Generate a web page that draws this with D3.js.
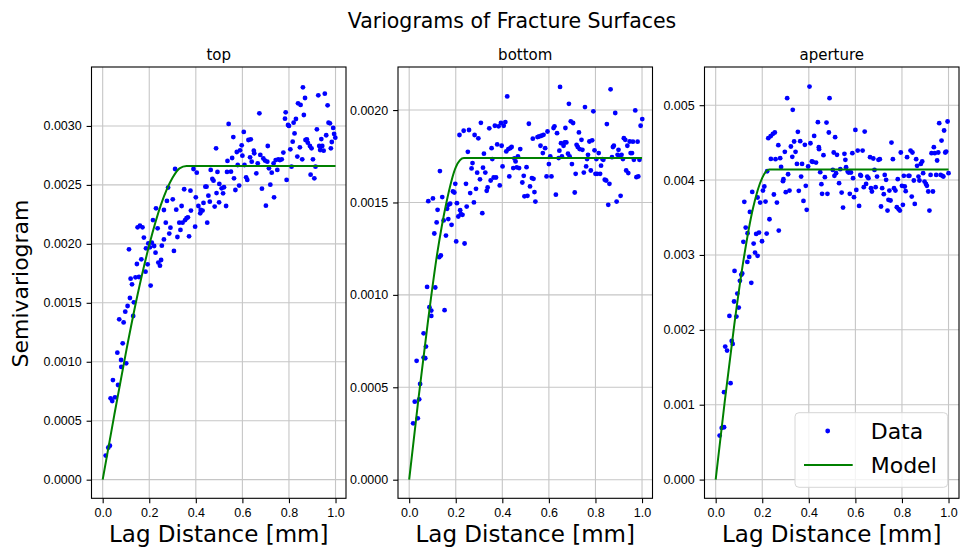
<!DOCTYPE html>
<html>
<head>
<meta charset="utf-8">
<script src="https://cdn.jsdelivr.net/npm/d3@7"></script>
<style>
  body { margin: 0; background: #fff; }
  svg { font-family: "DejaVu Sans", sans-serif; }
  .tick text { font-size: 12.5px; fill: #000; }
  .tick line { stroke: #000; stroke-width: 1.1; }
  .domain { display: none; }
</style>
</head>
<body>
<svg id="chart" width="960" height="551"></svg>
<script>
// lag distance [mm], semivariogram in units of 1e-3
var topData = [
  [0.013,0.204],[0.024,0.271],[0.031,0.288],[0.034,0.690],[0.041,0.667],[0.053,0.698],[0.044,0.845],[0.066,0.803],
  [0.063,1.077],[0.079,1.015],[0.080,0.956],[0.086,1.156],[0.101,0.987],[0.071,1.360],[0.090,1.334],[0.097,1.425],
  [0.107,1.473],[0.117,1.541],[0.131,1.388],[0.134,1.504],[0.120,1.705],[0.126,1.657],[0.141,1.716],[0.156,1.719],
  [0.147,1.829],[0.113,1.954],[0.166,1.869],[0.184,1.764],[0.193,1.826],[0.206,1.646],[0.150,2.140],[0.160,2.154],
  [0.171,2.140],[0.177,2.053],[0.186,1.962],[0.196,2.004],[0.203,1.971],[0.211,2.010],[0.221,1.982],[0.227,1.925],
  [0.239,1.841],[0.246,1.815],[0.251,1.863],[0.216,2.202],[0.229,2.301],[0.236,2.132],[0.254,1.985],[0.263,2.038],
  [0.263,2.287],[0.271,2.180],[0.281,2.477],[0.276,2.364],[0.286,2.087],[0.291,2.137],[0.301,2.378],[0.306,1.940],
  [0.311,2.635],[0.316,2.290],[0.321,2.058],[0.329,2.180],[0.334,2.118],[0.339,2.321],[0.343,2.180],[0.350,2.463],
  [0.354,2.202],[0.360,2.217],[0.366,2.225],[0.371,2.064],[0.379,2.282],[0.377,2.451],[0.390,2.635],[0.397,2.146],
  [0.400,2.395],[0.404,2.604],[0.411,2.321],[0.419,2.259],[0.421,2.287],[0.429,2.282],[0.433,2.347],[0.441,2.485],
  [0.446,2.485],[0.449,2.180],[0.454,2.409],[0.460,2.358],[0.464,2.627],[0.471,2.550],[0.476,2.536],[0.481,2.316],
  [0.487,2.810],[0.489,2.431],[0.493,2.610],[0.500,2.352],[0.501,2.508],[0.517,2.429],[0.511,2.471],[0.521,2.480],
  [0.530,2.321],[0.541,3.017],[0.536,2.703],[0.534,2.610],[0.551,2.612],[0.556,2.728],[0.561,2.906],[0.564,2.556],
  [0.570,2.457],[0.576,2.779],[0.580,2.669],[0.586,2.494],[0.590,2.793],[0.597,2.836],[0.600,2.748],[0.606,2.949],
  [0.609,2.669],[0.616,2.564],[0.621,2.542],[0.626,2.881],[0.636,2.887],[0.633,2.734],[0.640,2.697],[0.649,2.790],
  [0.651,2.768],[0.660,2.598],[0.666,2.683],[0.673,3.107],[0.677,2.754],[0.684,2.468],[0.690,2.725],[0.697,2.706],
  [0.701,2.324],[0.707,2.697],[0.709,2.830],[0.714,2.641],[0.720,2.502],[0.726,2.604],[0.736,2.395],[0.734,2.683],
  [0.743,2.711],[0.750,2.627],[0.754,2.717],[0.761,2.711],[0.769,2.717],[0.776,2.774],[0.783,3.062],[0.786,3.116],
  [0.790,2.542],[0.796,3.008],[0.800,3.000],[0.806,2.802],[0.811,2.655],[0.816,2.867],[0.820,3.028],[0.824,2.937],
  [0.830,3.059],[0.836,2.740],[0.839,3.192],[0.847,2.819],[0.850,3.178],[0.857,2.717],[0.860,3.328],[0.864,3.093],
  [0.869,3.237],[0.871,2.881],[0.877,2.887],[0.881,2.858],[0.890,2.830],[0.893,2.587],[0.897,2.810],[0.903,2.717],
  [0.909,2.556],[0.914,2.655],[0.920,2.971],[0.926,3.260],[0.930,2.830],[0.934,2.796],[0.939,2.889],[0.943,2.830],
  [0.949,2.790],[0.954,3.274],[0.960,2.921],[0.966,3.175],[0.970,3.028],[0.976,3.022],[0.980,2.810],[0.984,2.864],
  [0.990,2.983],[0.994,2.932],[0.999,2.901]
];

var bottomData = [
  [0.017,0.305],[0.037,0.332],[0.024,0.422],[0.043,0.435],[0.047,0.518],[0.032,0.643],[0.062,0.661],[0.069,0.657],
  [0.072,0.720],[0.062,0.792],[0.087,0.933],[0.095,0.915],[0.095,0.886],[0.077,1.043],[0.112,1.040],[0.152,0.917],
  [0.129,1.204],[0.136,1.213],[0.108,1.332],[0.118,1.392],[0.122,1.460],[0.082,1.507],[0.102,1.522],[0.132,1.670],
  [0.142,1.529],[0.148,1.403],[0.158,1.321],[0.163,1.466],[0.168,1.410],[0.168,1.487],[0.176,1.493],[0.182,1.379],
  [0.188,1.560],[0.194,1.554],[0.198,1.601],[0.205,1.496],[0.202,1.289],[0.211,1.424],[0.219,1.458],[0.222,1.437],
  [0.229,1.433],[0.216,1.865],[0.234,1.888],[0.238,1.278],[0.244,1.601],[0.247,1.478],[0.252,1.774],[0.257,1.892],
  [0.262,1.551],[0.268,1.684],[0.272,1.713],[0.278,1.500],[0.281,1.865],[0.287,1.574],[0.292,1.661],[0.297,1.847],
  [0.304,1.625],[0.308,1.931],[0.314,1.442],[0.317,1.688],[0.321,1.764],[0.327,1.662],[0.333,1.563],[0.337,1.581],
  [0.344,1.901],[0.350,1.619],[0.354,1.794],[0.357,1.735],[0.363,1.635],[0.368,1.915],[0.373,1.635],[0.378,1.814],
  [0.384,1.912],[0.389,1.592],[0.394,1.930],[0.397,1.807],[0.401,1.695],[0.406,1.915],[0.413,1.935],[0.417,1.776],
  [0.421,2.074],[0.426,1.789],[0.430,1.641],[0.434,1.794],[0.440,1.800],[0.447,1.686],[0.452,1.738],[0.457,1.722],
  [0.462,1.690],[0.467,1.749],[0.472,1.686],[0.477,1.789],[0.486,1.608],[0.492,1.644],[0.495,1.533],[0.504,1.691],
  [0.508,1.536],[0.514,1.926],[0.519,1.587],[0.527,1.632],[0.534,1.628],[0.531,1.845],[0.538,1.556],[0.542,1.505],
  [0.551,1.854],[0.558,1.857],[0.564,1.807],[0.568,1.861],[0.574,1.767],[0.577,1.866],[0.584,1.794],[0.590,1.641],
  [0.594,1.884],[0.600,1.708],[0.606,1.749],[0.611,1.641],[0.620,1.903],[0.624,1.912],[0.630,1.542],[0.635,1.875],
  [0.642,1.740],[0.645,1.780],[0.648,2.125],[0.652,1.821],[0.656,1.749],[0.663,1.807],[0.668,1.825],[0.671,1.903],
  [0.675,1.825],[0.682,1.764],[0.686,2.034],[0.689,1.749],[0.694,1.939],[0.699,1.708],[0.704,1.930],[0.711,1.554],
  [0.715,1.655],[0.719,1.812],[0.724,1.800],[0.729,1.879],[0.732,1.789],[0.740,1.839],[0.744,1.785],[0.750,1.662],
  [0.755,2.016],[0.760,1.695],[0.764,1.735],[0.768,1.758],[0.774,1.830],[0.780,1.673],[0.786,1.836],[0.791,1.993],
  [0.796,1.782],[0.800,1.655],[0.804,1.735],[0.807,1.655],[0.814,1.767],[0.820,1.655],[0.824,1.699],[0.830,1.735],
  [0.834,1.731],[0.840,1.623],[0.846,1.619],[0.849,1.924],[0.855,1.487],[0.860,1.601],[0.865,2.112],[0.871,1.745],
  [0.875,1.800],[0.879,1.807],[0.885,1.984],[0.891,1.505],[0.895,1.758],[0.899,1.785],[0.904,1.749],[0.908,1.536],
  [0.912,1.758],[0.918,1.735],[0.922,1.848],[0.928,1.839],[0.932,1.673],[0.937,1.807],[0.941,1.659],[0.947,1.830],
  [0.951,1.767],[0.957,1.767],[0.961,1.829],[0.965,1.731],[0.971,1.998],[0.976,1.637],[0.981,1.829],[0.984,1.641],
  [0.989,1.731],[0.994,1.915],[1.001,1.951]
];

var apertureData = [
  [0.017,0.588],[0.026,0.690],[0.036,0.699],[0.036,1.167],[0.064,1.287],[0.041,1.776],[0.049,1.723],[0.069,1.852],
  [0.073,1.812],[0.059,2.186],[0.089,2.177],[0.079,2.378],[0.093,2.484],[0.099,2.297],[0.081,2.787],[0.104,2.654],
  [0.110,2.734],[0.114,2.752],[0.153,2.627],[0.136,2.907],[0.144,2.974],[0.119,3.175],[0.129,3.366],[0.137,3.290],
  [0.163,3.152],[0.169,3.032],[0.180,2.988],[0.174,3.281],[0.186,3.299],[0.199,3.183],[0.219,3.286],[0.147,3.575],
  [0.123,3.709],[0.157,3.842],[0.180,3.767],[0.191,3.700],[0.203,3.860],[0.209,3.914],[0.214,3.713],[0.231,3.477],
  [0.250,3.807],[0.263,3.700],[0.271,3.326],[0.221,4.118],[0.226,4.559],[0.236,4.586],[0.246,4.617],[0.254,4.635],
  [0.237,4.283],[0.257,4.279],[0.269,4.466],[0.277,4.292],[0.281,4.176],[0.289,3.985],[0.291,4.012],[0.297,4.377],
  [0.301,3.838],[0.307,5.094],[0.311,4.078],[0.317,3.860],[0.323,4.448],[0.329,4.310],[0.331,4.938],[0.337,4.515],
  [0.343,4.377],[0.349,4.216],[0.353,4.644],[0.357,3.856],[0.363,4.519],[0.367,4.047],[0.371,4.216],[0.377,3.722],
  [0.383,4.470],[0.387,3.923],[0.391,3.602],[0.397,4.181],[0.403,5.249],[0.407,4.492],[0.413,4.248],[0.417,4.243],
  [0.423,4.590],[0.431,4.234],[0.439,4.773],[0.443,4.439],[0.444,4.412],[0.449,4.105],[0.454,3.945],[0.457,3.816],
  [0.463,4.332],[0.469,4.038],[0.476,4.768],[0.480,3.816],[0.486,4.635],[0.489,5.094],[0.513,4.573],[0.507,4.368],
  [0.521,4.337],[0.503,4.136],[0.510,4.056],[0.517,4.092],[0.530,3.958],[0.535,4.145],[0.541,3.833],[0.547,3.633],
  [0.553,4.350],[0.557,4.270],[0.560,4.172],[0.567,4.114],[0.571,4.101],[0.576,3.816],[0.581,4.101],[0.587,4.359],
  [0.590,4.025],[0.594,3.771],[0.600,4.670],[0.604,3.869],[0.610,4.394],[0.616,3.655],[0.621,4.069],[0.624,4.056],
  [0.631,4.394],[0.636,3.905],[0.640,4.648],[0.646,3.949],[0.651,4.047],[0.656,4.025],[0.663,4.306],[0.667,3.892],
  [0.671,3.847],[0.677,4.288],[0.682,4.136],[0.687,3.905],[0.693,4.047],[0.699,4.270],[0.705,4.279],[0.710,3.647],
  [0.715,3.892],[0.722,3.811],[0.726,4.069],[0.732,4.003],[0.738,3.593],[0.742,3.736],[0.746,3.860],[0.751,3.727],
  [0.755,4.501],[0.761,4.279],[0.766,3.892],[0.772,3.860],[0.778,3.638],[0.782,4.012],[0.786,3.611],[0.791,3.593],
  [0.795,4.368],[0.800,3.923],[0.804,3.669],[0.808,4.056],[0.812,3.914],[0.816,3.851],[0.822,4.306],[0.828,4.056],
  [0.832,4.056],[0.837,4.394],[0.842,3.780],[0.845,4.368],[0.851,3.994],[0.855,3.682],[0.861,4.279],[0.865,4.190],
  [0.871,4.047],[0.875,3.994],[0.881,4.216],[0.887,4.248],[0.891,4.092],[0.897,3.980],[0.903,3.949],[0.907,3.923],
  [0.913,3.847],[0.918,3.593],[0.923,4.069],[0.927,4.359],[0.933,3.847],[0.937,4.439],[0.941,4.359],[0.947,4.069],
  [0.951,4.261],[0.956,4.368],[0.960,4.760],[0.966,4.069],[0.970,4.528],[0.974,4.056],[0.978,4.047],[0.981,4.662],
  [0.986,4.368],[0.990,4.381],[0.996,4.782],[1.000,4.092]
];

// fitted model curves (gamma x1e-3)
var topModelLag = [0, 0.05, 0.1, 0.15, 0.2, 0.25, 0.3, 0.33, 0.36, 1.0];
var topModelGamma = [0, 0.55, 1.08, 1.57, 1.99, 2.33, 2.56, 2.64, 2.66, 2.66];
var bottomModelLag = [0, 0.04, 0.08, 0.12, 0.16, 0.2, 0.235, 1.0];
var bottomModelGamma = [0, 0.44, 0.85, 1.22, 1.50, 1.69, 1.74, 1.74];
var apertureModelLag = [0, 0.04, 0.08, 0.12, 0.16, 0.2, 0.23, 1.0];
var apertureModelGamma = [0, 1.07, 2.07, 2.94, 3.62, 4.03, 4.14, 4.14];

var panelTitles = ["top", "bottom", "aperture"];
var xTicks = [0, 0.2, 0.4, 0.6, 0.8, 1.0];
var topYTicks = [0, 0.5, 1.0, 1.5, 2.0, 2.5, 3.0];
var bottomYTicks = [0, 0.5, 1.0, 1.5, 2.0];
var apertureYTicks = [0, 1, 2, 3, 4, 5];

var svg = d3.select("#chart");
var top0 = 67, bottom0 = 498.3, pw = 254.5;

var panels = [
  {title: panelTitles[0], left: 91.5, data: topData, mx: topModelLag, my: topModelGamma,
   ydom: [-0.158, 3.5], yticks: topYTicks, fmt: d3.format(".4f")},
  {title: panelTitles[1], left: 398, data: bottomData, mx: bottomModelLag, my: bottomModelGamma,
   ydom: [-0.1007, 2.233], yticks: bottomYTicks, fmt: d3.format(".4f")},
  {title: panelTitles[2], left: 704.5, data: apertureData, mx: apertureModelLag, my: apertureModelGamma,
   ydom: [-0.25, 5.51], yticks: apertureYTicks, fmt: d3.format(".3f")}
];

panels.forEach(function(p) {
  var x = d3.scaleLinear().domain([-0.048, 1.045]).range([p.left, p.left + pw]);
  var y = d3.scaleLinear().domain(p.ydom).range([bottom0, top0]);
  var g = svg.append("g");

  // grid
  g.selectAll(".vg").data(xTicks).enter().append("line")
    .attr("x1", function(d){ return x(d); }).attr("x2", function(d){ return x(d); })
    .attr("y1", top0).attr("y2", bottom0)
    .attr("stroke", "#c6c6c6").attr("stroke-width", 1.1);
  g.selectAll(".hg").data(p.yticks).enter().append("line")
    .attr("x1", p.left).attr("x2", p.left + pw)
    .attr("y1", function(d){ return y(d); }).attr("y2", function(d){ return y(d); })
    .attr("stroke", "#c6c6c6").attr("stroke-width", 1.1);

  // axes
  g.append("g").attr("transform", "translate(0," + bottom0 + ")")
    .call(d3.axisBottom(x).tickValues(xTicks).tickSize(4.9).tickPadding(4.9).tickFormat(d3.format(".1f")));
  g.append("g").attr("transform", "translate(" + p.left + ",0)")
    .call(d3.axisLeft(y).tickValues(p.yticks).tickSize(4.9).tickPadding(4.9)
      .tickFormat(function(d){ return p.fmt(d / 1000); }));

  // data points
  g.selectAll("circle").data(p.data).enter().append("circle")
    .attr("cx", function(d){ return x(d[0]); })
    .attr("cy", function(d){ return y(d[1]); })
    .attr("r", 2.4).attr("fill", "#0000ff");

  // model
  var line = d3.line()
    .x(function(d){ return x(d[0]); })
    .y(function(d){ return y(d[1]); })
    .curve(d3.curveMonotoneX);
  g.append("path").datum(d3.zip(p.mx, p.my))
    .attr("d", line).attr("fill", "none")
    .attr("stroke", "#008000").attr("stroke-width", 2);

  // frame
  g.append("rect").attr("x", p.left).attr("y", top0)
    .attr("width", pw).attr("height", bottom0 - top0)
    .attr("fill", "none").attr("stroke", "#000").attr("stroke-width", 1.1);

  g.append("text").attr("x", p.left + pw / 2).attr("y", 59.5)
    .attr("text-anchor", "middle").attr("font-size", 15).text(p.title);
  g.append("text").attr("x", p.left + pw / 2).attr("y", 542)
    .attr("text-anchor", "middle").attr("font-size", 23).text("Lag Distance [mm]");
});

svg.append("text").attr("x", 512).attr("y", 27.7)
  .attr("text-anchor", "middle").attr("font-size", 20.5).text("Variograms of Fracture Surfaces");

svg.append("text").attr("transform", "translate(28,283.5) rotate(-90)")
  .attr("text-anchor", "middle").attr("font-size", 22).text("Semivariogram");

// legend
var lg = svg.append("g");
lg.append("rect").attr("x", 795).attr("y", 412.7).attr("width", 152.7).attr("height", 74.6)
  .attr("rx", 4).attr("fill", "#fff").attr("fill-opacity", 0.8)
  .attr("stroke", "#d6d6d6").attr("stroke-width", 1);
lg.append("circle").attr("cx", 827.7).attr("cy", 431).attr("r", 2.4).attr("fill", "#0000ff");
lg.append("line").attr("x1", 804).attr("x2", 852.7).attr("y1", 465).attr("y2", 465)
  .attr("stroke", "#008000").attr("stroke-width", 2);
lg.append("text").attr("x", 870.7).attr("y", 439.3).attr("font-size", 22).text("Data");
lg.append("text").attr("x", 870.7).attr("y", 473).attr("font-size", 22).text("Model");
</script>
</body>
</html>
